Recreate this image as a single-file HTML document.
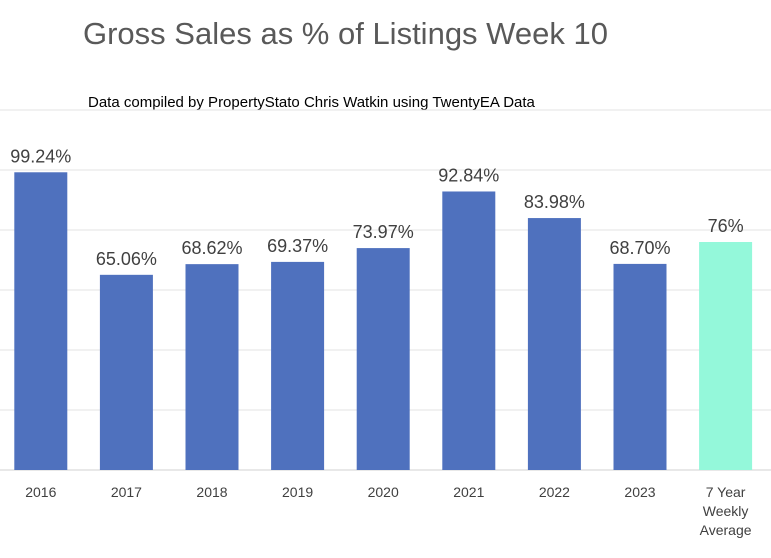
<!DOCTYPE html>
<html><head><meta charset="utf-8"><style>
body{margin:0;background:#fff;}
svg{display:block;font-family:"Liberation Sans",sans-serif;}
</style></head><body>
<svg id="chart" width="771" height="558">
<text x="83" y="44" font-size="31" fill="#595959">Gross Sales as % of Listings Week 10</text>
<text x="88" y="107" font-size="15" fill="#000">Data compiled by PropertyStato Chris Watkin using TwentyEA Data</text>
<g id="grid"></g><g id="bars"></g><g id="labels"></g><g id="xaxis"></g>
</svg>
<script>
const categories=["2016","2017","2018","2019","2020","2021","2022","2023","7 Year|Weekly|Average"];
const values=[99.24,65.06,68.62,69.37,73.97,92.84,83.98,68.70,76];
const valueLabels=["99.24%","65.06%","68.62%","69.37%","73.97%","92.84%","83.98%","68.70%","76%"];
const gridTicks=[0,20,40,60,80,100,120];
const NS="http://www.w3.org/2000/svg";
const base=470, pxPer=3.0, step=85.6, x0=-2, bw=53;
const y=v=>base-v*pxPer;
const xc=i=>x0+step*i+step/2;
function mk(t,a,p){const e=document.createElementNS(NS,t);for(const k in a)e.setAttribute(k,a[k]);p.appendChild(e);return e;}
const grid=document.getElementById('grid'),bars=document.getElementById('bars'),labels=document.getElementById('labels'),xa=document.getElementById('xaxis');
gridTicks.forEach(t=>{const l=mk('line',{x1:0,x2:771,y1:y(t),y2:y(t),stroke:t===0?'#d0d0d0':'#e3e3e3','stroke-width':1},grid);

});
values.forEach((v,i)=>{
 const r=mk('rect',{x:xc(i)-bw/2,y:y(v),width:bw,height:v*pxPer,fill:i===8?'#94F8DA':'#4F71BE'},bars);
 
 
 const t=mk('text',{x:xc(i),y:y(v)-10,'text-anchor':'middle','font-size':18,fill:'#404040'},labels);
 t.textContent=valueLabels[i];
 
 
 const lines=categories[i].split('|');
 lines.forEach((s,j)=>{const c=mk('text',{x:xc(i),y:497+j*19,'text-anchor':'middle','font-size':14,fill:'#404040'},xa);
 c.textContent=s;
 
 });
});
</script>
</body></html>
